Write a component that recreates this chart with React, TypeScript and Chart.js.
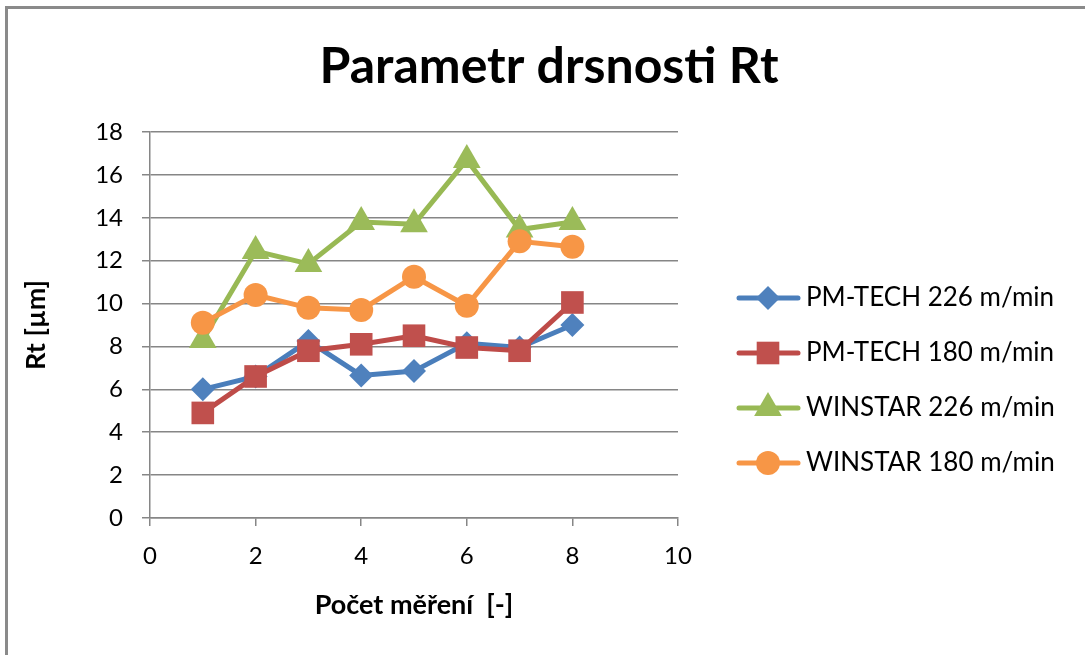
import React, { useEffect, useRef } from "react";
import { Chart, registerables } from "chart.js";

Chart.register(...registerables);

const xValues = [1, 2, 3, 4, 5, 6, 7, 8];
const seriesNames = [
  "PM-TECH 226 m/min",
  "PM-TECH 180 m/min",
  "WINSTAR 226 m/min",
  "WINSTAR 180 m/min",
];
const pmTech226 = [6.0, 6.6, 8.25, 6.65, 6.85, 8.15, 7.95, 9.0];
const pmTech180 = [4.9, 6.6, 7.8, 8.1, 8.5, 7.95, 7.8, 10.05];
const winstar226 = [8.3, 12.45, 11.85, 13.8, 13.7, 16.7, 13.45, 13.8];
const winstar180 = [9.1, 10.4, 9.8, 9.7, 11.25, 9.9, 12.9, 12.65];
const seriesValues = [pmTech226, pmTech180, winstar226, winstar180];
const lineColors = ["#4A7EBB", "#BE4B48", "#98B954", "#F79646"];
const markerColors = ["#4F81BD", "#C0504D", "#9BBB59", "#F79646"];
const markerStyles = ["rectRot", "rect", "triangle", "circle"];
const markerRadii = [12, 16, 16, 12];

const chartTitle = "Parametr drsnosti Rt";
const xTitle = "Počet měření  [-]";
const yTitle = "Rt [µm]";

const FONT = "Lato, 'Open Sans', sans-serif";
const GRID = "#868686";

function drawMarker(ctx: CanvasRenderingContext2D, style: string, x: number, y: number, r: number) {
  ctx.beginPath();
  if (style === "circle") {
    ctx.arc(x, y, r, 0, Math.PI * 2);
  } else if (style === "rect") {
    const s = Math.SQRT1_2 * r;
    ctx.rect(x - s, y - s, 2 * s, 2 * s);
  } else if (style === "rectRot") {
    ctx.moveTo(x, y - r);
    ctx.lineTo(x + r, y);
    ctx.lineTo(x, y + r);
    ctx.lineTo(x - r, y);
    ctx.closePath();
  } else if (style === "triangle") {
    ctx.moveTo(x, y - r);
    ctx.lineTo(x + r * Math.cos(Math.PI / 6), y + r * 0.5);
    ctx.lineTo(x - r * Math.cos(Math.PI / 6), y + r * 0.5);
    ctx.closePath();
  }
  ctx.fill();
}

const decorPlugin = {
  id: "decor",
  beforeDraw(chart: any) {
    const ctx = chart.ctx as CanvasRenderingContext2D;
    ctx.save();
    ctx.fillStyle = "#ffffff";
    ctx.fillRect(0, 0, chart.width, chart.height);
    ctx.fillStyle = "#8a8a8a";
    ctx.fillRect(5, 6, chart.width - 5, 3);
    ctx.fillRect(5, 6, 3, chart.height - 6);
    ctx.restore();
  },
  afterDraw(chart: any) {
    const ctx = chart.ctx as CanvasRenderingContext2D;
    ctx.save();
    ctx.fillStyle = "#000000";
    ctx.font = `bold 50px ${FONT}`;
    ctx.textAlign = "center";
    ctx.textBaseline = "middle";
    ctx.fillText(chartTitle, 549, 67);

    chart.data.datasets.forEach((ds: any, i: number) => {
      const y = 298 + 55 * i;
      ctx.strokeStyle = lineColors[i];
      ctx.lineWidth = 5;
      ctx.lineCap = "round";
      ctx.beginPath();
      ctx.moveTo(739, y);
      ctx.lineTo(798, y);
      ctx.stroke();
      ctx.fillStyle = markerColors[i];
      drawMarker(ctx, markerStyles[i], 768, y, markerRadii[i]);
      ctx.fillStyle = "#000000";
      ctx.font = `26px ${FONT}`;
      ctx.textAlign = "left";
      ctx.textBaseline = "middle";
      ctx.fillText(ds.label, 806, y);
    });
    ctx.restore();
  },
};

export default function App() {
  const canvasRef = useRef<HTMLCanvasElement | null>(null);

  useEffect(() => {
    if (!canvasRef.current) return;
    const datasets = seriesValues.map((vals, i) => ({
      label: seriesNames[i],
      data: xValues.map((x, j) => ({ x, y: vals[j] })),
      borderColor: lineColors[i],
      backgroundColor: markerColors[i],
      borderWidth: 5,
      pointStyle: markerStyles[i],
      pointRadius: markerRadii[i],
      pointBorderWidth: 0,
      pointBackgroundColor: markerColors[i],
      pointBorderColor: markerColors[i],
      tension: 0,
      order: 4 - i,
      fill: false,
    }));

    const chart = new Chart(canvasRef.current, {
      type: "line",
      data: { datasets },
      plugins: [decorPlugin],
      options: {
        animation: false,
        responsive: false,
        layout: { padding: { top: 132, right: 407, left: 0, bottom: 0 } },
        plugins: {
          legend: { display: false },
          title: { display: false },
          tooltip: { enabled: false },
        },
        scales: {
          x: {
            type: "linear",
            min: 0,
            max: 10,
            ticks: {
              stepSize: 2,
              color: "#000000",
              font: { family: FONT, size: 24 },
              padding: 16,
            },
            grid: {
              drawOnChartArea: false,
              drawTicks: true,
              tickLength: 8,
              color: GRID,
              lineWidth: 1.5,
            },
            border: { color: GRID, width: 1.5 },
            title: {
              display: true,
              text: xTitle,
              color: "#000000",
              font: { family: FONT, size: 27, weight: "bold" },
              padding: { top: 0, bottom: 34 },
            },
            afterFit(scale: any) {
              scale.height = 137;
            },
          },
          y: {
            min: 0,
            max: 18,
            ticks: {
              stepSize: 2,
              color: "#000000",
              font: { family: FONT, size: 24 },
              padding: 19,
            },
            grid: {
              color: GRID,
              lineWidth: 1.5,
              tickLength: 8,
            },
            border: { color: GRID, width: 1.5 },
            title: {
              display: true,
              text: yTitle,
              color: "#000000",
              font: { family: FONT, size: 27, weight: "bold" },
              padding: { top: 20, bottom: 0 },
            },
            afterFit(scale: any) {
              scale.width = 150;
            },
          },
        },
      } as any,
    });
    return () => chart.destroy();
  }, []);

  return (
    <div style={{ position: "fixed", left: 0, top: 0, width: 1085, height: 655, background: "#fff" }}>
      <canvas ref={canvasRef} width={1085} height={655} style={{ display: "block", width: 1085, height: 655 }} />
    </div>
  );
}
